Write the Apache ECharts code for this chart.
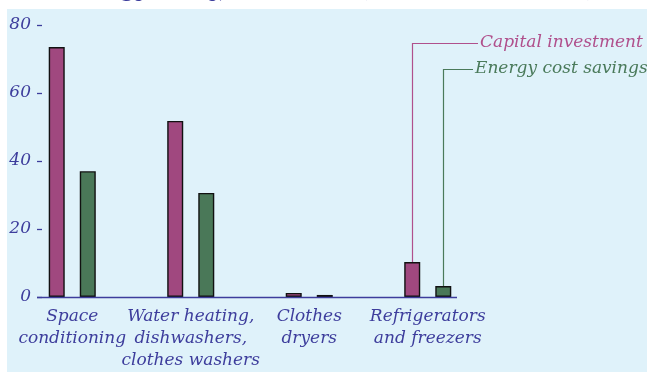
<!DOCTYPE html>
<html><head><meta charset="utf-8">
<script src="https://cdn.jsdelivr.net/npm/echarts@6/dist/echarts.min.js"></script>
<style>html,body{margin:0;padding:0;background:#fff}#c{width:647px;height:372px}</style>
</head><body><div id="c"></div>
<script>
const categories = ['Space\nconditioning', 'Water heating,\ndishwashers,\nclothes washers', 'Clothes\ndryers', 'Refrigerators\nand freezers'];
const capitalInvestment = [73.5, 51.8, 1.2, 10.3];
const energyCostSavings = [37.0, 30.6, 0.6, 3.2];
const yTicks = [0, 20, 40, 60, 80];
const seriesNames = ['Capital investment', 'Energy cost savings'];

const BLUE = '#3d3d9c', PURPLE = '#a0487f', GREEN = '#4a7858';
const PURPLE_T = '#b0508c', GREEN_T = '#4a7a5a';
const FONT = 'DejaVu Serif';

const chart = echarts.init(document.getElementById('c'), null, {renderer: 'canvas'});
const option = {
  backgroundColor: '#ffffff',
  animation: false,
  grid: {left: 13, right: 160, top: 25, bottom: 75, containLabel: false, outerBoundsMode: 'none'},
  xAxis: {
    type: 'category', data: categories,
    axisLine: {show: false}, axisTick: {show: false},
    axisLabel: {color: BLUE, fontFamily: FONT, fontStyle: 'italic', fontSize: 17, lineHeight: 22, margin: 9, interval: 0}
  },
  yAxis: {
    type: 'value', min: yTicks[0], max: yTicks[yTicks.length - 1], interval: 20, offset: -24,
    splitLine: {show: false}, axisLine: {show: false},
    axisTick: {show: true, inside: true, length: 5, lineStyle: {color: BLUE, width: 1.3}},
    axisLabel: {color: BLUE, fontFamily: FONT, fontStyle: 'italic', fontSize: 17, margin: 6}
  },
  series: [
    {name: seriesNames[0], type: 'bar', data: capitalInvestment, barWidth: 16, barGap: '94%',
     itemStyle: {color: PURPLE, borderColor: '#111', borderWidth: 1.4}},
    {name: seriesNames[1], type: 'bar', data: energyCostSavings, barWidth: 16,
     itemStyle: {color: GREEN, borderColor: '#111', borderWidth: 1.4}}
  ]
};
chart.setOption(option);

function barLayout(si, di) {
  const d = chart.getModel().getSeriesByIndex(si).getData();
  return d.getItemLayout(di);
}
const y0 = chart.convertToPixel({yAxisIndex: 0}, 0);
const l1 = barLayout(0, 3), l2 = barLayout(1, 3);
const x1 = Math.round(l1.x + l1.width / 2) + 0.5, top1 = Math.min(l1.y, l1.y + l1.height);
const x2 = Math.round(l2.x + l2.width / 2) + 0.5, top2 = Math.min(l2.y, l2.y + l2.height);
const yy0 = Math.round(y0) + 0.5;
chart.setOption({
  graphic: [
    {type: 'rect', z: -10, silent: true, shape: {x: 7, y: 9, width: 640, height: 363}, style: {fill: '#dff2fa'}},
    {type: 'text', z: -5, silent: true, style: {x: 598, y: 2, text: 'Energy Policy, 2006-2030 (billion 2005 dollars)', align: 'right', verticalAlign: 'bottom', fill: BLUE, font: 'italic bold 20px "DejaVu Serif"'}},
    {type: 'line', z: 10, silent: true, shape: {x1: 37, y1: yy0, x2: 457, y2: yy0}, style: {stroke: BLUE, lineWidth: 1.3}},
    {type: 'polyline', z: 10, silent: true, shape: {points: [[x1, top1], [x1, 43.5], [478, 43.5]]}, style: {stroke: PURPLE_T, lineWidth: 1.2, fill: null}},
    {type: 'polyline', z: 10, silent: true, shape: {points: [[x2, top2], [x2, 69.5], [473, 69.5]]}, style: {stroke: GREEN_T, lineWidth: 1.2, fill: null}},
    {type: 'text', z: 10, silent: true, style: {x: 480, y: 43, text: seriesNames[0], verticalAlign: 'middle', fill: PURPLE_T, font: 'italic 17px "DejaVu Serif"'}},
    {type: 'text', z: 10, silent: true, style: {x: 475, y: 69, text: seriesNames[1], verticalAlign: 'middle', fill: GREEN_T, font: 'italic 17px "DejaVu Serif"'}}
  ]
});
</script></body></html>
